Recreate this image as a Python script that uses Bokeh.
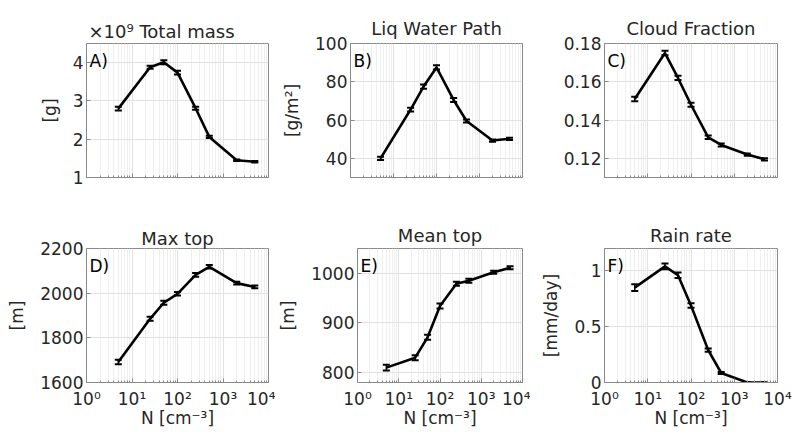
import numpy as np
from bokeh.plotting import figure
from bokeh.layouts import column, row
from bokeh.models import Range1d, Label, FixedTicker, NumeralTickFormatter, ColumnDataSource
from bokeh.embed import file_html
from bokeh.resources import INLINE

# ---------------- data ----------------
N = [5, 25, 50, 100, 250, 500, 2000, 5000]

total_mass = [2.80, 3.88, 4.01, 3.74, 2.81, 2.06, 1.45, 1.41]      # x1e9 g
total_mass_err = [0.05, 0.04, 0.05, 0.05, 0.04, 0.03, 0.02, 0.02]

lwp = [40.0, 65.5, 77.5, 87.5, 70.5, 59.5, 49.3, 50.2]
lwp_err = [0.9, 1.0, 1.1, 1.1, 1.0, 0.8, 0.6, 0.6]

cloud_frac = [0.151, 0.175, 0.162, 0.148, 0.131, 0.127, 0.122, 0.1195]
cloud_frac_err = [0.0012, 0.0012, 0.0011, 0.0011, 0.0009, 0.0008, 0.0006, 0.0006]

max_top = [1692, 1885, 1957, 1997, 2082, 2118, 2045, 2028]
max_top_err = [10, 9, 9, 8, 8, 8, 6, 6]

mean_top = [810, 830, 871, 934, 979, 985, 1002, 1011]
mean_top_err = [6, 5, 5, 5, 4, 4, 3, 3]

rain_rate = [0.85, 1.04, 0.96, 0.69, 0.29, 0.085, 0.0, 0.0]
rain_rate_err = [0.03, 0.025, 0.025, 0.02, 0.015, 0.008, 0.002, 0.002]

x_ticks = [1, 10, 100, 1000, 10000]
x_tick_labels = ["10\u2070", "10\u00b9", "10\u00b2", "10\u00b3", "10\u2074"]

panels = [
    dict(title="\u00d710\u2079 Total mass", letter="A)", ylabel="[g]", y=total_mass, err=total_mass_err,
         yr=(1, 4.5), yt=[1, 2, 3, 4], fmt=None),
    dict(title="Liq Water Path", letter="B)", ylabel="[g/m\u00b2]", y=lwp, err=lwp_err,
         yr=(30, 100), yt=[40, 60, 80, 100], fmt=None),
    dict(title="Cloud Fraction", letter="C)", ylabel=None, y=cloud_frac, err=cloud_frac_err,
         yr=(0.11, 0.18), yt=[0.12, 0.14, 0.16, 0.18], fmt=None),
    dict(title="Max top", letter="D)", ylabel="[m]", y=max_top, err=max_top_err,
         yr=(1600, 2200), yt=[1600, 1800, 2000, 2200], fmt=None),
    dict(title="Mean top", letter="E)", ylabel="[m]", y=mean_top, err=mean_top_err,
         yr=(780, 1050), yt=[800, 900, 1000], fmt=None),
    dict(title="Rain rate", letter="F)", ylabel="[mm/day]", y=rain_rate, err=rain_rate_err,
         yr=(0, 1.2), yt=[0, 0.5, 1], fmt="0.[0]"),
]

# ---------------- layout / style ----------------
FONT = "DejaVu Sans"
TXT = "#262626"
AX = "#8a8a8a"
col_w = [275, 255, 265]
col_l = [86, 75, 74]
col_r = [7, 8, 18]
row_h = [215, 217]
row_t = [43, 33]
row_b = [38, 50]
title_standoff = [4, 9, 9, 0, 5, 5]

figs = []
for i, pd_ in enumerate(panels):
    r, c = divmod(i, 3)
    p = figure(width=col_w[c], height=row_h[r], x_axis_type="log",
               x_range=Range1d(1, 10000), y_range=Range1d(*pd_["yr"]),
               output_backend="svg", toolbar_location=None,
               min_border_left=col_l[c], min_border_right=col_r[c],
               min_border_top=row_t[r], min_border_bottom=row_b[r])
    p.background_fill_color = "white"
    p.border_fill_color = "white"
    p.outline_line_color = AX
    p.outline_line_width = 1

    # title
    p.title.text = pd_["title"]
    p.title.text_font = FONT
    p.title.text_font_size = "18px"
    p.title.text_font_style = "normal"
    p.title.text_color = TXT
    if i == 0:
        p.title.align = "left"
        p.title.offset = 2
    else:
        p.title.align = "center"
    p.title.standoff = title_standoff[i]

    # axes
    for ax in (p.xaxis[0], p.yaxis[0]):
        ax.axis_line_color = AX
        ax.major_tick_line_color = AX
        ax.minor_tick_line_color = AX
        ax.major_tick_in = 4
        ax.major_tick_out = 0
        ax.major_label_text_font = FONT
        ax.major_label_text_font_size = "17px"
        ax.major_label_text_color = TXT
        ax.axis_label_text_font = FONT
        ax.axis_label_text_font_size = "17px"
        ax.axis_label_text_font_style = "normal"
        ax.axis_label_text_color = TXT
    p.xaxis.minor_tick_in = 2
    p.xaxis.minor_tick_out = 0
    p.yaxis.minor_tick_in = 0
    p.yaxis.minor_tick_out = 0
    p.xaxis.ticker = FixedTicker(ticks=x_ticks, minor_ticks=[m * d for d in (1, 10, 100, 1000) for m in range(2, 10)])
    if r == 1:
        p.xaxis.major_label_overrides = {t: l for t, l in zip(x_ticks, x_tick_labels)}
        p.xaxis.axis_label = "N [cm\u207b\u00b3]"
        p.xaxis.axis_label_standoff = -4
        p.xaxis.major_label_standoff = 6
    else:
        p.xaxis.major_label_overrides = {t: "" for t in x_ticks}
    p.yaxis.ticker = FixedTicker(ticks=pd_["yt"])
    p.yaxis.major_label_standoff = 3
    if pd_["fmt"]:
        p.yaxis.formatter = NumeralTickFormatter(format=pd_["fmt"])
    if pd_["ylabel"]:
        p.yaxis.axis_label = pd_["ylabel"]
        p.yaxis.axis_label_standoff = 10

    # grids
    p.xgrid.grid_line_color = "#e2e2e2"
    p.xgrid.minor_grid_line_color = "#efefef"
    p.ygrid.grid_line_color = "#e2e2e2"

    # data
    y = np.array(pd_["y"], dtype=float)
    e = np.array(pd_["err"], dtype=float)
    src = ColumnDataSource(dict(x=N, y=y, lo=y - e, hi=y + e))
    p.segment(x0="x", y0="lo", x1="x", y1="hi", source=src, line_color="black", line_width=1.5)
    p.scatter(x="x", y="lo", source=src, marker="dash", size=7, line_color="black", line_width=2)
    p.scatter(x="x", y="hi", source=src, marker="dash", size=7, line_color="black", line_width=2)
    p.line(x="x", y="y", source=src, line_color="black", line_width=2.6)

    # panel letter
    lab = Label(x=3, y=134 - 7, x_units="screen", y_units="screen", text=pd_["letter"],
                text_font=FONT, text_font_size="17px", text_color="black", text_baseline="top")
    p.add_layout(lab)

    figs.append(p)

layout = column(row(*figs[:3], spacing=0), row(*figs[3:], spacing=0), spacing=0)
open("out.html", "w").write(file_html(layout, INLINE))
